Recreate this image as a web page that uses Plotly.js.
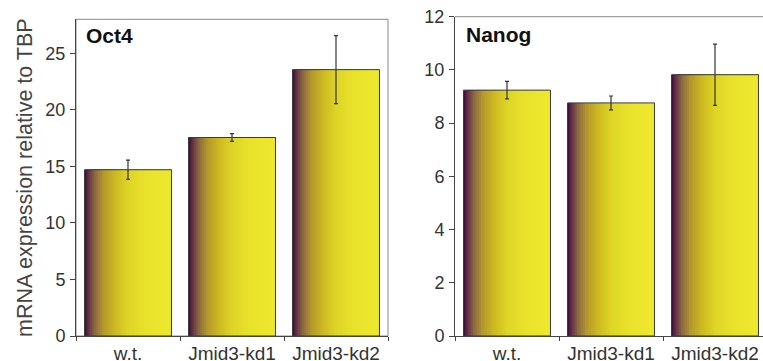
<!DOCTYPE html>
<html>
<head>
<meta charset="utf-8">
<script src="https://cdn.plot.ly/plotly-3.0.1.min.js"></script>
<style>html,body{margin:0;padding:0;background:#fff;}#chart{width:763px;height:361px;}</style>
</head>
<body>
<div id="chart"></div>
<script>
// ---- data ----
const categories = ["w.t.", "Jmid3-kd1", "Jmid3-kd2"];
const oct4Values = [14.7, 17.55, 23.55];
const oct4Errors = [0.85, 0.35, 3.0];
const nanogValues = [9.24, 8.76, 9.82];
const nanogErrors = [0.33, 0.26, 1.15];
const panelTitles = ["Oct4", "Nanog"];
const yAxisTitle = "mRNA expression relative to TBP";

// ---- gradient ----
const gradStops = [
  [0.00, [60, 8, 62]],
  [0.04, [95, 45, 70]],
  [0.12, [140, 105, 65]],
  [0.22, [180, 152, 45]],
  [0.35, [205, 185, 32]],
  [0.50, [222, 212, 38]],
  [0.70, [232, 226, 44]],
  [1.00, [238, 232, 46]]
];
function gradColor(t) {
  for (let i = 1; i < gradStops.length; i++) {
    if (t <= gradStops[i][0]) {
      const a = gradStops[i - 1], b = gradStops[i];
      const f = (t - a[0]) / (b[0] - a[0]);
      const c = a[1].map((v, k) => Math.round(v + (b[1][k] - v) * f));
      return "rgb(" + c.join(",") + ")";
    }
  }
  return "rgb(" + gradStops[gradStops.length - 1][1].join(",") + ")";
}

const BW = 0.836;
const N = 45;
const traces = [];
function addPanel(values, errors, xa, ya) {
  const step = BW / N;
  for (let i = 0; i < N; i++) {
    traces.push({
      type: "bar", x: categories, y: values, xaxis: xa, yaxis: ya,
      width: BW - i * step, offset: -BW / 2 + i * step,
      marker: {color: gradColor((i + 0.5) / N), line: {width: 0}},
      hoverinfo: "skip", showlegend: false
    });
  }
  traces.push({
    type: "bar", x: categories, y: values, xaxis: xa, yaxis: ya,
    width: BW, offset: -BW / 2,
    marker: {color: "rgba(0,0,0,0)", line: {color: "#3a3a3a", width: 1}},
    error_y: {type: "data", array: errors, visible: true, color: "#333", thickness: 1.2, width: 2},
    showlegend: false
  });
}
addPanel(oct4Values, oct4Errors, "x", "y");
addPanel(nanogValues, nanogErrors, "x2", "y2");

const tickFont = {family: "Liberation Sans Narrow, Arial Narrow, Liberation Sans, Arial, sans-serif", size: 18, color: "#333"};
const catFont = {family: "Liberation Sans, Arial, sans-serif", size: 19, color: "#333"};

function xAxis(domain, range) {
  return {
    domain: domain, range: range, type: "category", tickson: "boundaries",
    ticks: "outside", ticklen: 4, tickcolor: "#444", showline: true, linecolor: "#444", linewidth: 1,
    showgrid: false, zeroline: false, tickfont: catFont, fixedrange: true
  };
}
function yAxis(domain, range, dtick) {
  return {
    domain: domain, range: range, dtick: dtick, tick0: 0,
    ticks: "outside", ticklen: 5, tickcolor: "#444", showline: true, linecolor: "#444", linewidth: 1,
    showgrid: false, zeroline: false, tickfont: tickFont, ticklabelstandoff: 1, fixedrange: true
  };
}

const layout = {
  width: 763, height: 361,
  margin: {l: 0, r: 0, t: 0, b: 25, pad: 0},
  paper_bgcolor: "#fff", plot_bgcolor: "#fff",
  barmode: "overlay", showlegend: false,
  xaxis: Object.assign(xAxis([76 / 763, 388 / 763], [-0.5, 2.5]), {anchor: "y"}),
  yaxis: Object.assign(yAxis([0, (336 - 19.3) / 336], [0, 28], 5), {anchor: "x"}),
  xaxis2: Object.assign(xAxis([455 / 763, 1], [-0.5, 2.5 - 4 / 104]), {anchor: "y2"}),
  yaxis2: Object.assign(yAxis([0, (336 - 16.7) / 336], [0, 12], 2), {anchor: "x2"}),
  shapes: [
    {type: "rect", xref: "x domain", yref: "y domain", x0: 0, x1: 1, y0: 0, y1: 1,
     line: {color: "#8a8a8a", width: 1}, layer: "below"},
    {type: "line", xref: "x2 domain", yref: "y2 domain", x0: 0, x1: 1, y0: 1, y1: 1,
     line: {color: "#8a8a8a", width: 1}, layer: "below"}
  ],
  annotations: [
    {text: "<b>" + panelTitles[0] + "</b>", xref: "x domain", yref: "y domain", x: 0.026, y: 0.95,
     xanchor: "left", yanchor: "middle", showarrow: false,
     font: {family: "Liberation Sans, Arial, sans-serif", size: 21, color: "#111"}},
    {text: "<b>" + panelTitles[1] + "</b>", xref: "x2 domain", yref: "y2 domain", x: 0.03, y: 0.945,
     xanchor: "left", yanchor: "middle", showarrow: false,
     font: {family: "Liberation Sans, Arial, sans-serif", size: 21, color: "#111"}},
    {text: yAxisTitle, xref: "paper", yref: "paper", x: 25 / 763, y: (336 - 178) / 336,
     xanchor: "center", yanchor: "middle", textangle: -90, showarrow: false,
     font: {family: "Liberation Sans, Arial, sans-serif", size: 21.5, color: "#444"}}
  ]
};

Plotly.newPlot("chart", traces, layout, {staticPlot: true, displayModeBar: false});
</script>
</body>
</html>
